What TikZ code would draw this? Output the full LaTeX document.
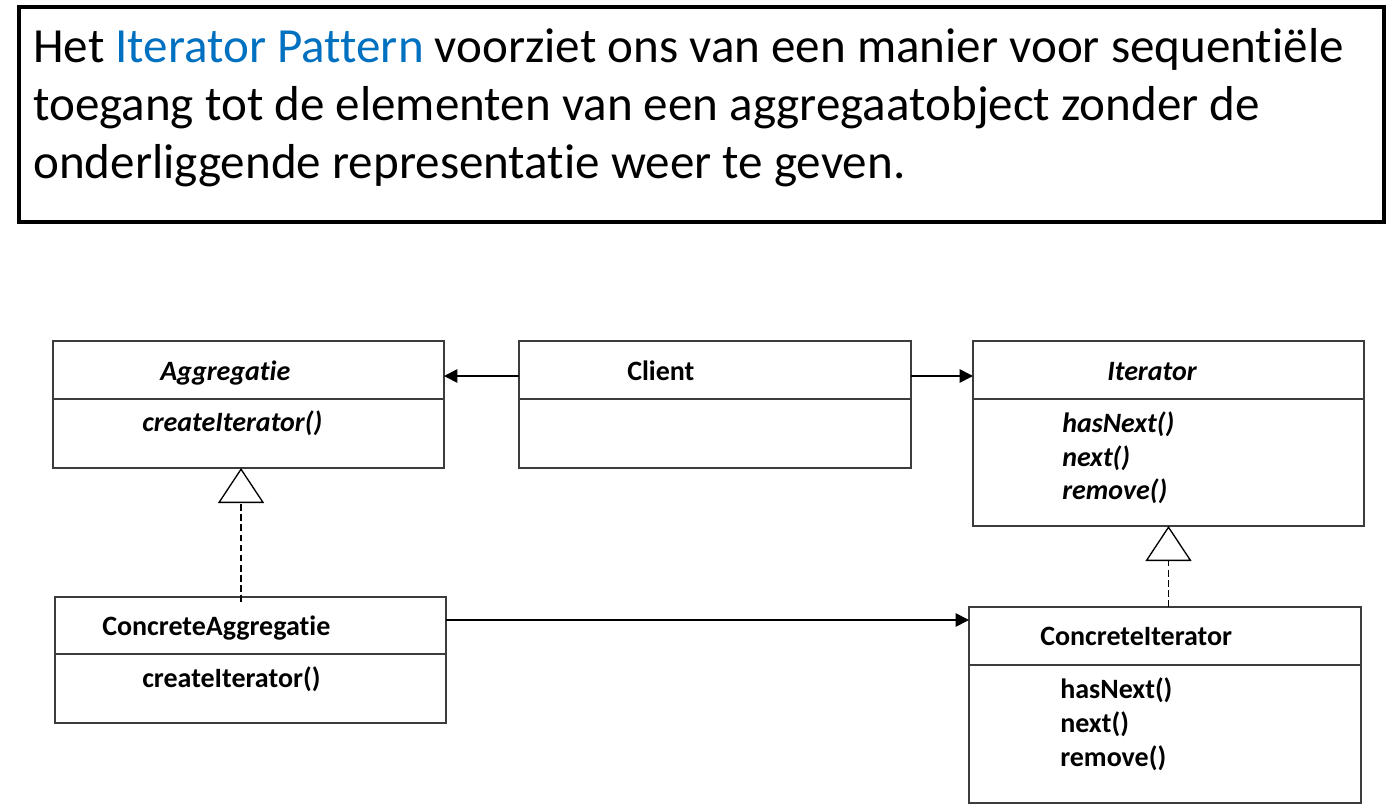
\documentclass[tikz,border=0pt]{standalone}
\usepackage{fontspec}
\setmainfont{Carlito}[Ligatures={NoCommon}]
\usepackage{tikz}
\usetikzlibrary{arrows.meta,positioning,calc}

\definecolor{patblue}{RGB}{0,112,192}
\definecolor{boxgray}{RGB}{60,60,60}

\tikzset{
	classbox/.style={draw=boxgray,line width=0.9pt,rectangle,inner sep=0pt,outer sep=0pt,minimum width=293.25pt},
	classname/.style={anchor=base west,inner sep=0pt,font=\fontsize{21pt}{25pt}\selectfont\bfseries},
	method/.style={classname},
	intro/.style={anchor=base west,inner sep=0pt,font=\fontsize{36.8pt}{43.5pt}\selectfont},
	assoc/.style={draw=black,line width=1.2pt,-{Triangle[length=10pt,width=10pt]}},
	realize/.style={draw=black,line width=1pt,dash pattern=on 5pt off 2.6pt,-{Triangle[open,length=26.25pt,width=34.5pt]}}
}

\begin{document}
\begin{tikzpicture}[x=0.75pt,y=-0.75pt]
	\useasboundingbox (0,0) rectangle (1398,807);

	% definitie
	\draw[line width=3pt,draw=black] (19,7) rectangle (1384,222);
	\node[intro] (l1) at (33,62){Het \textcolor{patblue}{Iterator Pattern} voorziet ons van een manier voor sequentiële};
	\node[intro] (l2) at (33,120){toegang tot de elementen van een aggregaatobject zonder de};
	\node[intro] (l3) at (33,178){onderliggende representatie weer te geven.};

	% klassen
	\node[classbox,minimum height=95.25pt] (agg) at (248.5,404.5){};
	\node[classbox,minimum height=95.25pt,minimum width=294pt] (cl) at (715,404.5){};
	\node[classbox,minimum height=138.75pt] (it) at (1168.5,433.5){};
	\node[classbox,minimum height=94.5pt] (cagg) at (250.5,660){};
	\node[classbox,minimum height=147pt,minimum width=294pt] (cit) at (1165,705){};

	\draw[draw=boxgray,line width=0.9pt] (agg.west |- 0,399) -- (agg.east |- 0,399);
	\draw[draw=boxgray,line width=0.9pt] (cl.west |- 0,399) -- (cl.east |- 0,399);
	\draw[draw=boxgray,line width=0.9pt] (it.west |- 0,399) -- (it.east |- 0,399);
	\draw[draw=boxgray,line width=0.9pt] (cagg.west |- 0,654) -- (cagg.east |- 0,654);
	\draw[draw=boxgray,line width=0.9pt] (cit.west |- 0,665) -- (cit.east |- 0,665);

	\node[classname] (n1) at (160,380){\itshape Aggregatie};
	\node[method] (m1) at (142,431){\itshape createIterator()};
	\node[classname] (n2) at (627,380){Client};
	\node[classname] (n3) at (1107,380){\itshape Iterator};
	\node[method] (m3a) at (1062,432){\itshape hasNext()};
	\node[method] (m3b) at (1062,466){\itshape next()};
	\node[method] (m3c) at (1062,499){\itshape remove()};
	\node[classname] (n4) at (102,635){ConcreteAggregatie};
	\node[method] (m4) at (142,687){createIterator()};
	\node[classname] (n5) at (1040,645){ConcreteIterator};
	\node[method] (m5a) at (1060,698){hasNext()};
	\node[method] (m5b) at (1060,732){next()};
	\node[method] (m5c) at (1060,766){remove()};

	% relaties
	\draw[assoc] (cl.north west) ++(0,35) coordinate (a1) -- (a1 -| agg.east);
	\draw[assoc] (cl.north east) ++(0,35) coordinate (a2) -- (a2 -| it.west);
	\draw[assoc] (cagg.north east) ++(0,23) coordinate (a3) -- (a3 -| cit.west);

	\coordinate (t1) at ([xshift=-5.6pt]agg.south);
	\draw[realize] ([yshift=-3.75pt]cagg.north -| t1) -- (t1);
	\draw[realize] (cit.north -| it.south) -- (it.south);
\end{tikzpicture}
\end{document}
